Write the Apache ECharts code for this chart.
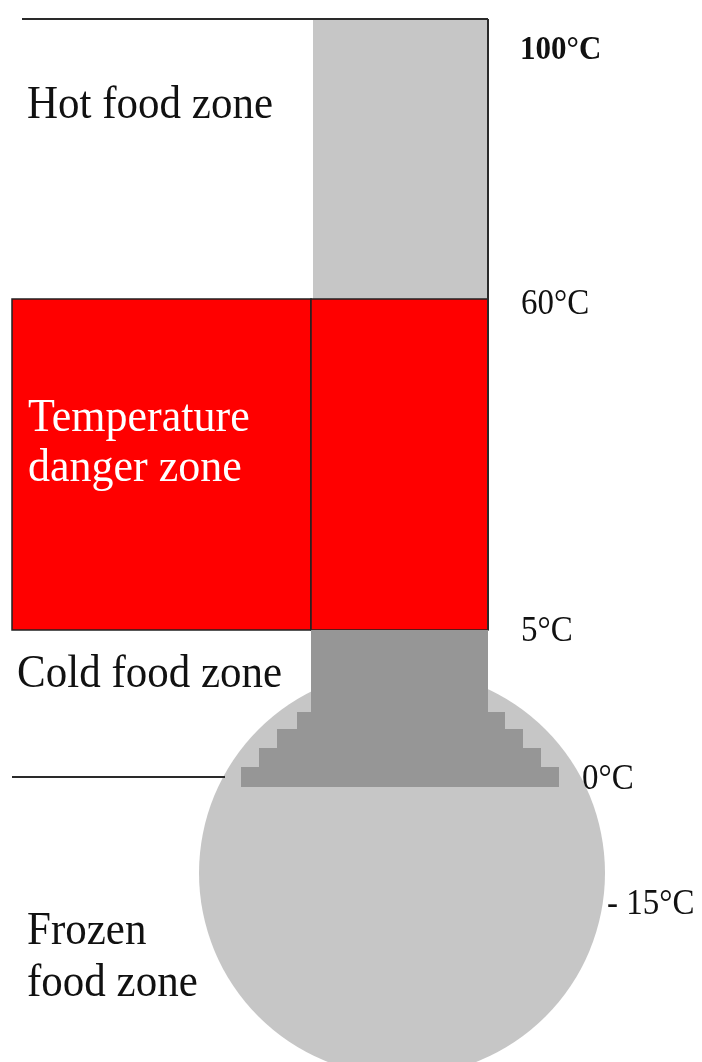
<!DOCTYPE html>
<html>
<head>
<meta http-equiv="Content-Type" content="text/html; charset=utf-8" />
<title>Food temperature zones</title>
<style>
  body, html { padding: 0; margin: 0; background: #fff; }
</style>
</head>
<body>
<div id="container" style="width: 702px; height: 1062px"></div>
<script src="https://cdn.jsdelivr.net/npm/echarts@6/dist/echarts.min.js"></script>
<script>
// thermometer pieces in picture units (x to the right, y downward)
var stemParts = [
  // x0, y0, x1, y1, zone
  [313, 19, 488, 299, 'hot'],
  [12, 299, 311, 630, 'danger'],
  [311, 299, 488, 630, 'danger'],
  [311, 630, 488, 712, 'cold']
];
var steps = [
  [297, 712, 505, 729],
  [277, 729, 523, 748],
  [259, 748, 541, 767],
  [241, 767, 559, 787]
];
var bulb = [[402, 873, 203]];
var rules = [
  [22, 19, 488, 19],
  [488, 19, 488, 630],
  [12, 777, 225, 777]
];
var tempLabels = ['100°C', '60°C', '5°C', '0°C', '- 15°C'];
var tempAt = [[520, 60], [521, 315], [521, 642], [582, 790], [607, 915]];
var zoneLines = ['Hot food zone', 'Temperature', 'danger zone', 'Cold food zone', 'Frozen', 'food zone'];
var zoneAt = [[27, 119], [28, 432], [28, 482], [17, 688], [27, 945], [27, 997]];

var fills = { hot: '#c6c6c6', danger: '#ff0000', cold: '#969696' };
var serif = '"Liberation Serif", "Times New Roman", serif';

function rectItem(style) {
  return function (params, api) {
    var p0 = api.coord([api.value(0), api.value(1)]);
    var p1 = api.coord([api.value(2), api.value(3)]);
    return {
      type: 'rect',
      shape: { x: p0[0], y: p0[1], width: p1[0] - p0[0], height: p1[1] - p0[1] },
      style: typeof style === 'function' ? style(params.dataIndex) : style
    };
  };
}

function textItem(labels, size, color, bold, shadow) {
  return function (params, api) {
    var p = api.coord([api.value(0), api.value(1)]);
    return {
      type: 'text',
      x: p[0],
      y: p[1] - size * 0.3,
      scaleY: 1.06,
      style: {
        text: labels[params.dataIndex],
        font: (bold ? 'bold ' : '') + size + 'px ' + serif,
        fill: color,
        align: 'left',
        verticalAlign: 'middle',
        shadowColor: shadow ? 'rgba(0,0,0,0.55)' : null,
        shadowBlur: shadow ? 3 : 0
      }
    };
  };
}

var chart = echarts.init(document.getElementById('container'));
chart.setOption({
  backgroundColor: '#fff',
  animation: false,
  grid: { left: 0, right: 0, top: 0, bottom: 0 },
  xAxis: { type: 'value', min: 0, max: 702, show: false },
  yAxis: { type: 'value', min: 0, max: 1062, inverse: true, show: false },
  series: [
    {
      type: 'custom',
      data: bulb,
      encode: { x: 0, y: 1 },
      renderItem: function (params, api) {
        var c = api.coord([api.value(0), api.value(1)]);
        var r = api.size([api.value(2), 0])[0];
        return { type: 'circle', shape: { cx: c[0], cy: c[1], r: r }, style: { fill: '#c6c6c6' } };
      }
    },
    {
      type: 'custom',
      data: stemParts,
      encode: { x: [0, 2], y: [1, 3] },
      renderItem: rectItem(function (i) {
        var z = stemParts[i][4];
        return {
          fill: fills[z],
          stroke: z === 'danger' ? '#222' : null,
          lineWidth: z === 'danger' ? 1.5 : 0
        };
      })
    },
    {
      type: 'custom',
      data: steps,
      encode: { x: [0, 2], y: [1, 3] },
      renderItem: rectItem({ fill: '#969696' })
    },
    {
      type: 'custom',
      data: rules,
      encode: { x: [0, 2], y: [1, 3] },
      renderItem: function (params, api) {
        var a = api.coord([api.value(0), api.value(1)]);
        var b = api.coord([api.value(2), api.value(3)]);
        return {
          type: 'line',
          shape: { x1: a[0], y1: a[1], x2: b[0], y2: b[1] },
          style: { stroke: '#2a2a2a', lineWidth: 2 }
        };
      }
    },
    {
      type: 'custom',
      data: zoneAt.slice(0, 1).concat(zoneAt.slice(3)),
      encode: { x: 0, y: 1 },
      renderItem: textItem([zoneLines[0]].concat(zoneLines.slice(3)), 43, '#111', false, false)
    },
    {
      type: 'custom',
      data: zoneAt.slice(1, 3),
      encode: { x: 0, y: 1 },
      renderItem: textItem(zoneLines.slice(1, 3), 44, '#fff', false, true)
    },
    {
      type: 'custom',
      data: tempAt.slice(0, 1),
      encode: { x: 0, y: 1 },
      renderItem: textItem(tempLabels.slice(0, 1), 31, '#111', true, false)
    },
    {
      type: 'custom',
      data: tempAt.slice(1),
      encode: { x: 0, y: 1 },
      renderItem: textItem(tempLabels.slice(1), 33, '#111', false, false)
    }
  ]
});
window.onresize = chart.resize;
</script>
</body>
</html>
